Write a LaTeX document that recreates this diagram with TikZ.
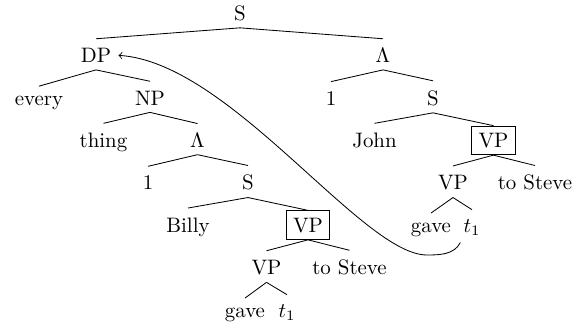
\documentclass[tikz,border=0pt]{standalone}
\begin{document}
\begin{tikzpicture}[x=0.4785pt,y=-0.4785pt,
  n/.style={anchor=base,inner sep=3.33pt},
  bx/.style={n,draw},
  edge/.style={line width=0.4pt}]
\useasboundingbox (0,0) rectangle (575,323);
% level 0
\node[n] (S0) at (240,20) {S};
% level 1
\node[n] (DP) at (96,62.5) {DP};
\node[n] (LamR) at (383,62.5) {$\Lambda$};
% level 2
\node[n] (every) at (39,105) {every};
\node[n] (NP) at (150,105) {NP};
\node[n] (oneR) at (331,105) {1};
\node[n] (SR) at (433,105) {S};
% level 3
\node[n] (thing) at (103.5,147.3) {thing};
\node[n] (LamL) at (197.5,147.3) {$\Lambda$};
\node[n] (John) at (374.5,147.3) {John};
\node[bx] (VPbR) at (493.5,147.3) {VP};
% level 4
\node[n] (oneL) at (148,189.7) {1};
\node[n] (SL) at (248,189.7) {S};
\node[n] (VPR) at (453,189.7) {VP};
\node[n] (tsR) at (535,189.7) {to Steve};
% level 5
\node[n] (Billy) at (188,232) {Billy};
\node[bx] (VPbL) at (308,232) {VP};
\node[n] (gaveR) at (431,232) {gave};
\node[n] (tR) at (472,232) {$t_1$};
% level 6
\node[n] (VPL) at (266.5,274.5) {VP};
\node[n] (tsL) at (349.5,274.5) {to Steve};
% level 7
\node[n] (gaveL) at (245,317) {gave};
\node[n] (tL) at (287,317) {$t_1$};
% edges
\foreach \p/\c in {S0/DP,S0/LamR,DP/every,DP/NP,LamR/oneR,LamR/SR,
  NP/thing,NP/LamL,SR/John,LamL/oneL,LamL/SL,VPbR/VPR,VPbR/tsR,
  SL/Billy,VPR/gaveR,VPR/tR,VPbL/VPL,VPbL/tsL,VPL/gaveL,VPL/tL}
  \draw[edge] (\p.south) -- ([yshift=1pt]\c.north);
\draw[edge] (SR.south) -- (VPbR.north);
\draw[edge] (SL.south) -- (VPbL.north);
% movement arrow
\coordinate (bend) at (427,255);
\draw[edge,->] ([xshift=2pt]tR.south west) .. controls +(-6,12) and +(13,0) .. (bend)
  .. controls +(-65,0) and (230,62) .. (DP.east);
\end{tikzpicture}
\end{document}
